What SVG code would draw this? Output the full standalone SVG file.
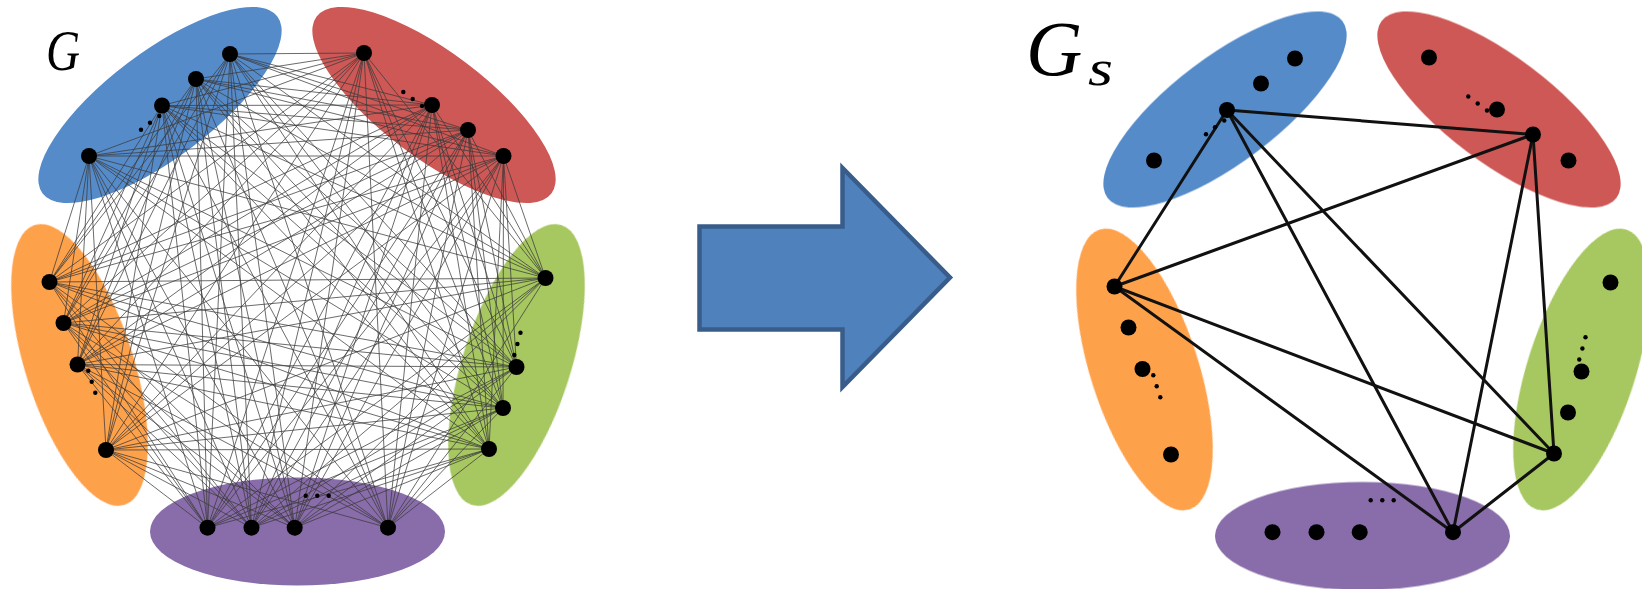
<svg xmlns="http://www.w3.org/2000/svg" width="1642" height="589" viewBox="0 0 1642 589">
  <style>
    .title { font-family: "Liberation Serif", "DejaVu Serif", serif; font-style: italic; fill: #000; }
    .node { fill: #000; }
    .dot { fill: #000; }
    .dense { fill: none; stroke: #3c3c3c; stroke-width: 0.95; stroke-opacity: 0.8; }
    .sparse { fill: none; stroke: #111; stroke-width: 3; stroke-linecap: round; }
    .blue { fill: #568BCA; }
    .red { fill: #CD5855; }
    .orange { fill: #FEA14C; }
    .green { fill: #A7C760; }
    .purple { fill: #896CAA; }
  </style>
  <defs>
    <filter id="soft" x="-5%" y="-5%" width="110%" height="110%">
      <feGaussianBlur stdDeviation="0.7"/>
    </filter>
    <!-- the five coloured partitions, shared by both graphs -->
    <g id="regions" filter="url(#soft)">
      <ellipse class="blue" cx="160" cy="105" rx="147" ry="53" transform="rotate(-37 160 105)"/>
      <ellipse class="red" cx="434" cy="105" rx="147" ry="53" transform="rotate(37 434 105)"/>
      <ellipse class="orange" cx="79.5" cy="365" rx="54" ry="147" transform="rotate(-17.8 79.5 365)"/>
      <ellipse class="green" cx="516.5" cy="365" rx="54" ry="147" transform="rotate(17.8 516.5 365)"/>
      <ellipse class="purple" cx="297.5" cy="531.5" rx="147.5" ry="54"/>
    </g>
  </defs>

  <!-- labels -->
  <text class="title" x="46" y="70" font-size="57" textLength="34" lengthAdjust="spacingAndGlyphs">G</text>
  <text class="title" x="1026" y="75" font-size="78">G</text>
  <text class="title" x="1088" y="85" font-size="50" textLength="25" lengthAdjust="spacingAndGlyphs">s</text>

  <!-- partition backgrounds -->
  <use href="#regions"/>
  <use href="#regions" transform="translate(1065 4.5)"/>

  <!-- transformation arrow -->
  <g id="arrow">
    <polygon points="699.5,226.5 842.5,226.5 842.5,168 950,277.5 842.5,387 842.5,329.5 699.5,329.5" fill="#4F81BD" stroke="#385D8A" stroke-width="4.5" stroke-linejoin="miter"/>
  </g>

  <g id="connectors">
    <!-- G: every vertex joined to every vertex of the other four parts -->
    <g id="edges-g" class="dense">
      <path d="M230 54L364 53M230 54L432 105M230 54L468 130M230 54L503.5 156M196 79L364 53M196 79L432 105M196 79L468 130M196 79L503.5 156M162 105.5L364 53M162 105.5L432 105M162 105.5L468 130M162 105.5L503.5 156M89 156L364 53M89 156L432 105M89 156L468 130M89 156L503.5 156"/>
      <path d="M230 54L49.5 282M230 54L63.5 323M230 54L77.5 364.5M230 54L106 450M196 79L49.5 282M196 79L63.5 323M196 79L77.5 364.5M196 79L106 450M162 105.5L49.5 282M162 105.5L63.5 323M162 105.5L77.5 364.5M162 105.5L106 450M89 156L49.5 282M89 156L63.5 323M89 156L77.5 364.5M89 156L106 450"/>
      <path d="M230 54L545.5 278M230 54L516.5 367M230 54L503 408M230 54L489 449M196 79L545.5 278M196 79L516.5 367M196 79L503 408M196 79L489 449M162 105.5L545.5 278M162 105.5L516.5 367M162 105.5L503 408M162 105.5L489 449M89 156L545.5 278M89 156L516.5 367M89 156L503 408M89 156L489 449"/>
      <path d="M230 54L207.5 527.7M230 54L251.5 527.7M230 54L294.7 527.7M230 54L388 527.7M196 79L207.5 527.7M196 79L251.5 527.7M196 79L294.7 527.7M196 79L388 527.7M162 105.5L207.5 527.7M162 105.5L251.5 527.7M162 105.5L294.7 527.7M162 105.5L388 527.7M89 156L207.5 527.7M89 156L251.5 527.7M89 156L294.7 527.7M89 156L388 527.7"/>
      <path d="M364 53L49.5 282M364 53L63.5 323M364 53L77.5 364.5M364 53L106 450M432 105L49.5 282M432 105L63.5 323M432 105L77.5 364.5M432 105L106 450M468 130L49.5 282M468 130L63.5 323M468 130L77.5 364.5M468 130L106 450M503.5 156L49.5 282M503.5 156L63.5 323M503.5 156L77.5 364.5M503.5 156L106 450"/>
      <path d="M364 53L545.5 278M364 53L516.5 367M364 53L503 408M364 53L489 449M432 105L545.5 278M432 105L516.5 367M432 105L503 408M432 105L489 449M468 130L545.5 278M468 130L516.5 367M468 130L503 408M468 130L489 449M503.5 156L545.5 278M503.5 156L516.5 367M503.5 156L503 408M503.5 156L489 449"/>
      <path d="M364 53L207.5 527.7M364 53L251.5 527.7M364 53L294.7 527.7M364 53L388 527.7M432 105L207.5 527.7M432 105L251.5 527.7M432 105L294.7 527.7M432 105L388 527.7M468 130L207.5 527.7M468 130L251.5 527.7M468 130L294.7 527.7M468 130L388 527.7M503.5 156L207.5 527.7M503.5 156L251.5 527.7M503.5 156L294.7 527.7M503.5 156L388 527.7"/>
      <path d="M49.5 282L545.5 278M49.5 282L516.5 367M49.5 282L503 408M49.5 282L489 449M63.5 323L545.5 278M63.5 323L516.5 367M63.5 323L503 408M63.5 323L489 449M77.5 364.5L545.5 278M77.5 364.5L516.5 367M77.5 364.5L503 408M77.5 364.5L489 449M106 450L545.5 278M106 450L516.5 367M106 450L503 408M106 450L489 449"/>
      <path d="M49.5 282L207.5 527.7M49.5 282L251.5 527.7M49.5 282L294.7 527.7M49.5 282L388 527.7M63.5 323L207.5 527.7M63.5 323L251.5 527.7M63.5 323L294.7 527.7M63.5 323L388 527.7M77.5 364.5L207.5 527.7M77.5 364.5L251.5 527.7M77.5 364.5L294.7 527.7M77.5 364.5L388 527.7M106 450L207.5 527.7M106 450L251.5 527.7M106 450L294.7 527.7M106 450L388 527.7"/>
      <path d="M545.5 278L207.5 527.7M545.5 278L251.5 527.7M545.5 278L294.7 527.7M545.5 278L388 527.7M516.5 367L207.5 527.7M516.5 367L251.5 527.7M516.5 367L294.7 527.7M516.5 367L388 527.7M503 408L207.5 527.7M503 408L251.5 527.7M503 408L294.7 527.7M503 408L388 527.7M489 449L207.5 527.7M489 449L251.5 527.7M489 449L294.7 527.7M489 449L388 527.7"/>
    </g>
    <!-- Gs: one representative per part, fully connected -->
    <g id="edges-gs" class="sparse" transform="translate(1065 4.5)">
      <line x1="162" y1="105.5" x2="468" y2="130"/>
      <line x1="162" y1="105.5" x2="49.5" y2="282"/>
      <line x1="162" y1="105.5" x2="489" y2="449"/>
      <line x1="162" y1="105.5" x2="388" y2="527.7"/>
      <line x1="468" y1="130" x2="49.5" y2="282"/>
      <line x1="468" y1="130" x2="489" y2="449"/>
      <line x1="468" y1="130" x2="388" y2="527.7"/>
      <line x1="49.5" y1="282" x2="489" y2="449"/>
      <line x1="49.5" y1="282" x2="388" y2="527.7"/>
      <line x1="489" y1="449" x2="388" y2="527.7"/>
    </g>
  </g>

  <!-- vertices of G -->
  <g id="g-blue">
    <circle class="node" cx="230" cy="54" r="8"/>
    <circle class="node" cx="196" cy="79" r="8"/>
    <circle class="node" cx="162" cy="105.5" r="8"/>
    <circle class="node" cx="89" cy="156" r="8"/>
    <circle class="dot" cx="159.3" cy="116" r="2.2"/>
    <circle class="dot" cx="150" cy="122.7" r="2.2"/>
    <circle class="dot" cx="141" cy="129.7" r="2.2"/>
  </g>
  <g id="g-red">
    <circle class="node" cx="364" cy="53" r="8"/>
    <circle class="node" cx="432" cy="105" r="8"/>
    <circle class="node" cx="468" cy="130" r="8"/>
    <circle class="node" cx="503.5" cy="156" r="8"/>
    <circle class="dot" cx="403.3" cy="92" r="2.2"/>
    <circle class="dot" cx="412.7" cy="99" r="2.2"/>
    <circle class="dot" cx="422" cy="106" r="2.2"/>
  </g>
  <g id="g-orange">
    <circle class="node" cx="49.5" cy="282" r="8"/>
    <circle class="node" cx="63.5" cy="323" r="8"/>
    <circle class="node" cx="77.5" cy="364.5" r="8"/>
    <circle class="node" cx="106" cy="450" r="8"/>
    <circle class="dot" cx="88.3" cy="370.7" r="2.2"/>
    <circle class="dot" cx="91.7" cy="381.7" r="2.2"/>
    <circle class="dot" cx="95.3" cy="392.7" r="2.2"/>
  </g>
  <g id="g-green">
    <circle class="node" cx="545.5" cy="278" r="8"/>
    <circle class="node" cx="516.5" cy="367" r="8"/>
    <circle class="node" cx="503" cy="408" r="8"/>
    <circle class="node" cx="489" cy="449" r="8"/>
    <circle class="dot" cx="520.5" cy="332.7" r="2.2"/>
    <circle class="dot" cx="517.4" cy="344" r="2.2"/>
    <circle class="dot" cx="514.3" cy="355" r="2.2"/>
  </g>
  <g id="g-purple">
    <circle class="node" cx="207.5" cy="527.7" r="8"/>
    <circle class="node" cx="251.5" cy="527.7" r="8"/>
    <circle class="node" cx="294.7" cy="527.7" r="8"/>
    <circle class="node" cx="388" cy="527.7" r="8"/>
    <circle class="dot" cx="305.7" cy="495.7" r="2.2"/>
    <circle class="dot" cx="317.3" cy="495.7" r="2.2"/>
    <circle class="dot" cx="328.7" cy="495.7" r="2.2"/>
  </g>

  <!-- vertices of Gs (same layout, shifted right) -->
  <g transform="translate(1065 4.5)">
    <g id="gs-blue">
      <circle class="node" cx="230" cy="54" r="8"/>
      <circle class="node" cx="196" cy="79" r="8"/>
      <circle class="node" cx="162" cy="105.5" r="8"/>
      <circle class="node" cx="89" cy="156" r="8"/>
      <circle class="dot" cx="159.3" cy="116" r="2.2"/>
      <circle class="dot" cx="150" cy="122.7" r="2.2"/>
      <circle class="dot" cx="141" cy="129.7" r="2.2"/>
    </g>
    <g id="gs-red">
      <circle class="node" cx="364" cy="53" r="8"/>
      <circle class="node" cx="432" cy="105" r="8"/>
      <circle class="node" cx="468" cy="130" r="8"/>
      <circle class="node" cx="503.5" cy="156" r="8"/>
      <circle class="dot" cx="403.3" cy="92" r="2.2"/>
      <circle class="dot" cx="412.7" cy="99" r="2.2"/>
      <circle class="dot" cx="422" cy="106" r="2.2"/>
    </g>
    <g id="gs-orange">
      <circle class="node" cx="49.5" cy="282" r="8"/>
      <circle class="node" cx="63.5" cy="323" r="8"/>
      <circle class="node" cx="77.5" cy="364.5" r="8"/>
      <circle class="node" cx="106" cy="450" r="8"/>
      <circle class="dot" cx="88.3" cy="370.7" r="2.2"/>
      <circle class="dot" cx="91.7" cy="381.7" r="2.2"/>
      <circle class="dot" cx="95.3" cy="392.7" r="2.2"/>
    </g>
    <g id="gs-green">
      <circle class="node" cx="545.5" cy="278" r="8"/>
      <circle class="node" cx="516.5" cy="367" r="8"/>
      <circle class="node" cx="503" cy="408" r="8"/>
      <circle class="node" cx="489" cy="449" r="8"/>
      <circle class="dot" cx="520.5" cy="332.7" r="2.2"/>
      <circle class="dot" cx="517.4" cy="344" r="2.2"/>
      <circle class="dot" cx="514.3" cy="355" r="2.2"/>
    </g>
    <g id="gs-purple">
      <circle class="node" cx="207.5" cy="527.7" r="8"/>
      <circle class="node" cx="251.5" cy="527.7" r="8"/>
      <circle class="node" cx="294.7" cy="527.7" r="8"/>
      <circle class="node" cx="388" cy="527.7" r="8"/>
      <circle class="dot" cx="305.7" cy="495.7" r="2.2"/>
      <circle class="dot" cx="317.3" cy="495.7" r="2.2"/>
      <circle class="dot" cx="328.7" cy="495.7" r="2.2"/>
    </g>
  </g>
</svg>
